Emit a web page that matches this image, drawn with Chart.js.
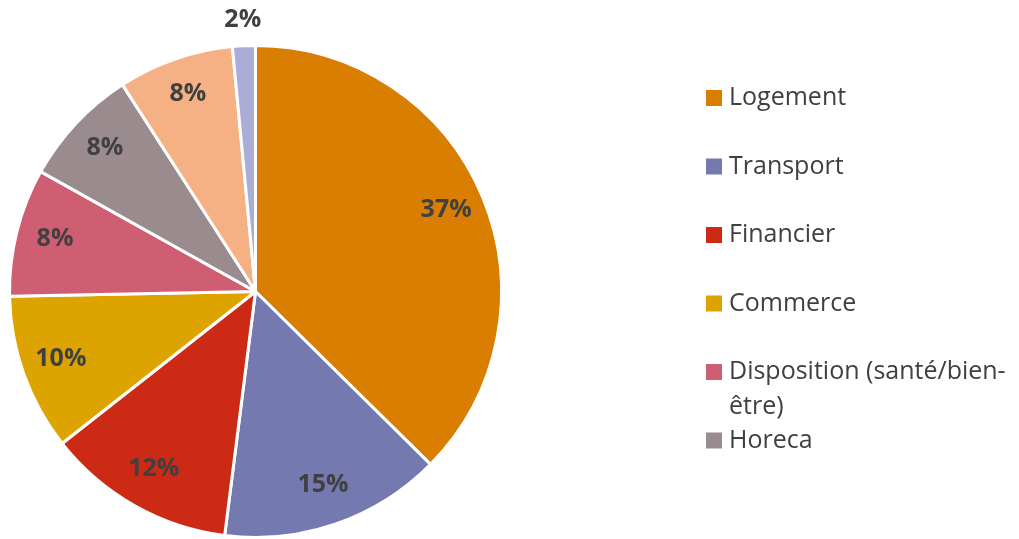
<!DOCTYPE html>
<html>
<head>
<meta charset="utf-8">
<script src="https://cdn.jsdelivr.net/npm/chart.js@4.4.0/dist/chart.umd.min.js"></script>
<style>
	html, body { margin: 0; padding: 0; background: #fff; }
	#wrap { width: 1019px; height: 539px; position: relative; }
</style>
</head>
<body>
<div id="wrap"><canvas id="chart--pie"></canvas></div>
<script>
const categories = ['Logement', 'Transport', 'Financier', 'Commerce', 'Disposition (santé/bien-être)', 'Horeca', 'Autre', 'Divers']
const values = [37.4, 14.6, 12.4, 10.3, 8.4, 7.8, 7.6, 1.5]
const colors = ['#D97E00', '#7479B0', '#CC2A14', '#DDA400', '#D05E72', '#9A8B8E', '#F5B184', '#AAADD7']
const legendShown = 6   // the last two don't fit in the legend box

const textColor = '#404040'

// percent labels on the slices, small ones go outside
const pieLabels = {
	id: 'pieLabels',
	afterDatasetsDraw(chart) {
		const ctx = chart.ctx
		const meta = chart.getDatasetMeta(0)
		ctx.save()
		ctx.font = 'bold 25px "Open Sans"'
		ctx.fillStyle = textColor
		ctx.textAlign = 'center'
		ctx.textBaseline = 'middle'
		meta.data.forEach((arc, i) => {
			const p = arc.getProps(['x', 'y', 'startAngle', 'endAngle', 'outerRadius'], true)
			const mid = (p.startAngle + p.endAngle) / 2
			const r = values[i] < 3 ? p.outerRadius + 24 : p.outerRadius * 0.84
			ctx.fillText(Math.round(values[i]) + '%', p.x + Math.cos(mid) * r, p.y + Math.sin(mid) * r - 2)
		})
		ctx.restore()
	}
}

function wrap(ctx, text, maxWidth) {
	var parts = text.match(/[^ \-]+[ \-]?/g)
	var lines = []
	var cur = ''
	parts.forEach(function(w) {
		if (cur && ctx.measureText(cur + w).width > maxWidth) {
			lines.push(cur.trim())
			cur = w
		} else {
			cur += w
		}
	})
	lines.push(cur.trim())
	return lines
}

// legend on the right, drawn by hand so the long label wraps like the original
const sideLegend = {
	id: 'sideLegend',
	afterDraw(chart) {
		const ctx = chart.ctx
		ctx.save()
		ctx.font = '25px "Open Sans"'
		ctx.textBaseline = 'middle'
		ctx.textAlign = 'left'
		for (var i = 0; i < legendShown; i++) {
			var y = 98 + i * 68.5
			ctx.fillStyle = colors[i]
			ctx.fillRect(706, y - 8, 16, 16)
			ctx.fillStyle = textColor
			var lines = wrap(ctx, categories[i], 288)
			lines.forEach(function(l, j) {
				ctx.fillText(l, 729, y + j * 35)
			})
		}
		ctx.restore()
	}
}

const ctx = document.getElementById('chart--pie').getContext('2d')
const chart__pie = new Chart(ctx, {
	type: 'pie',
	data: {
		labels: categories,
		datasets: [{
			data: values,
			backgroundColor: colors,
			borderColor: '#ffffff',
			borderWidth: 3
		}]
	},
	options: {
		responsive: true,
		maintainAspectRatio: false,
		animation: false,
		layout: {
			padding: { left: 7, top: 44, right: 515, bottom: -2 }
		},
		plugins: {
			legend: { display: false },
			tooltip: { enabled: false }
		}
	},
	plugins: [pieLabels, sideLegend]
})
</script>
</body>
</html>
